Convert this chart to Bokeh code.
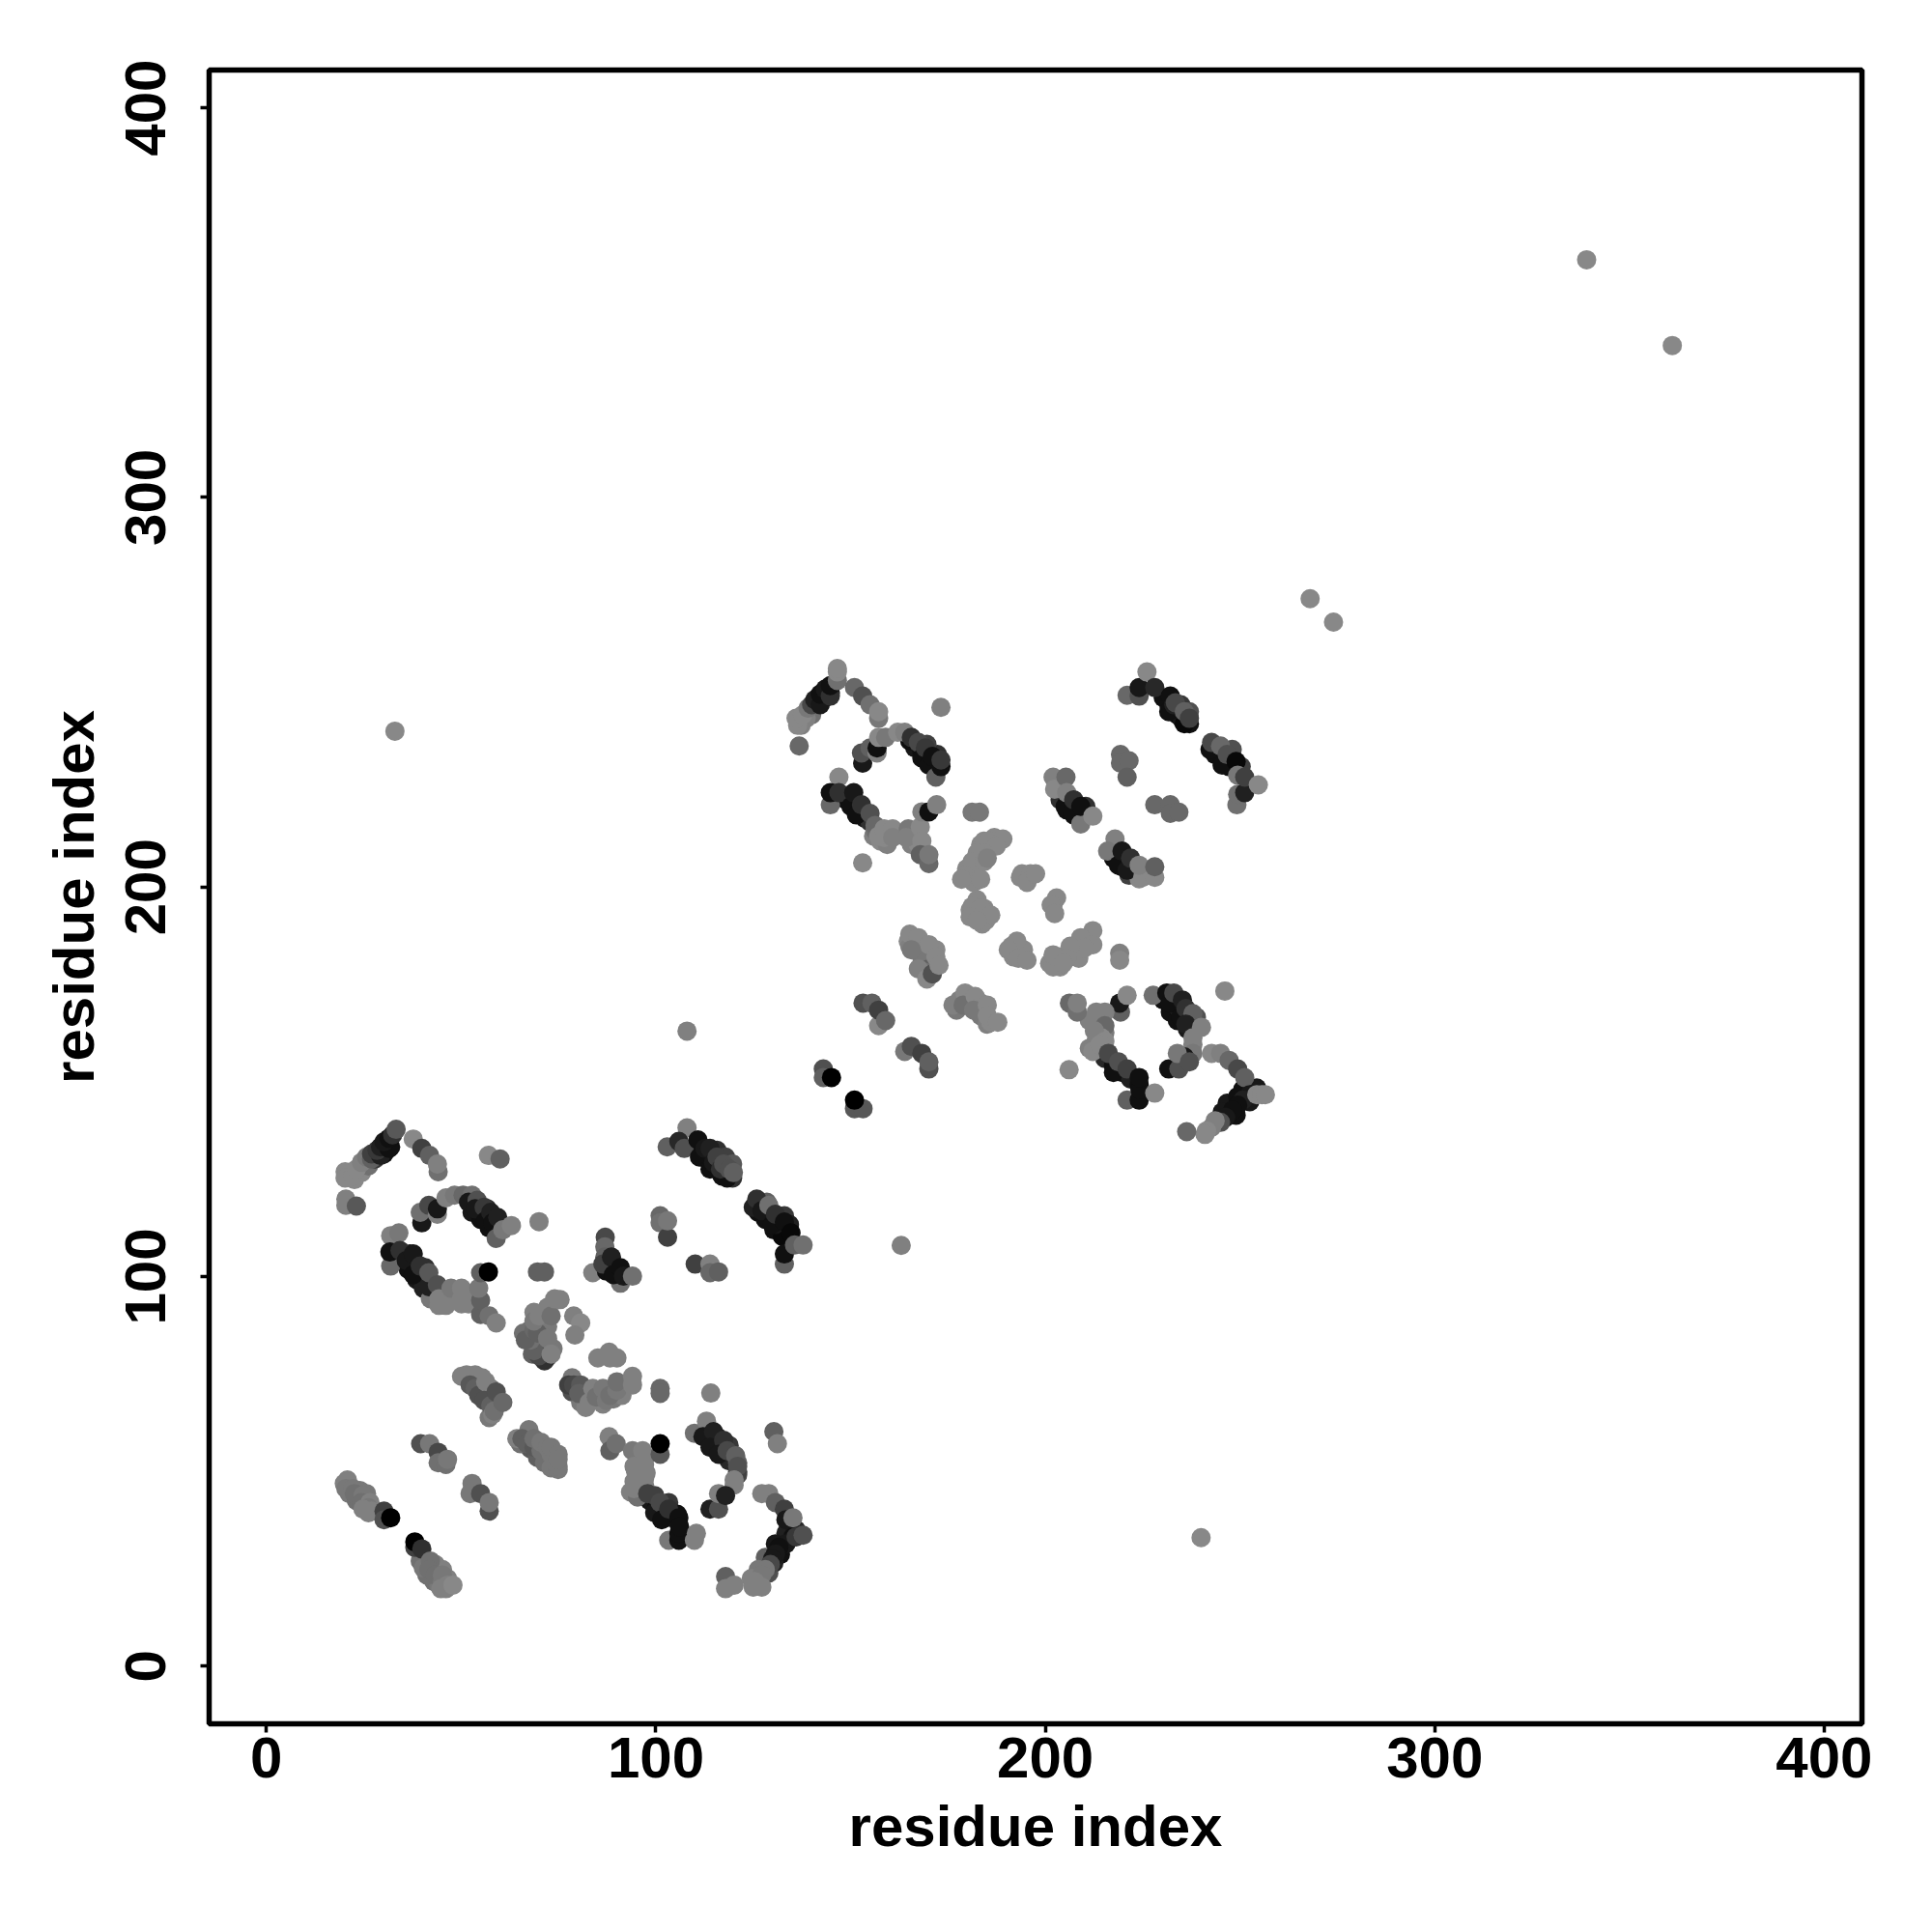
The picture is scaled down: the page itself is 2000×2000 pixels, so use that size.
from bokeh.plotting import figure
from bokeh.embed import file_html
from bokeh.resources import INLINE
from bokeh.models import ColumnDataSource, FixedTicker

# contacts: (residue i, residue j, grey level)
under_c = [(22.6,124.9,0x88),(24.4,126.7,0x88),(26.2,128.4,0x70),(27.9,130.2,0x38),(30.2,131.5,0x10),(31.9,133.3,0x10),
(111.2,133.3,0x10),(113,130.2,0x10),(115.2,127.6,0x18),(117,125.8,0x10),(119.7,125.3,0x30),(115.7,132.4,0x30),(117.9,130.7,0x40),(119.7,128.9,0x58),
(126.3,116.5,0x10),(128.1,114.7,0x10),(130.3,112,0x10),(132.5,110.3,0x08),(128.5,119.1,0x60),(133,115.6,0x38),(134.3,113.4,0x20),(130.7,113.4,0x18),
(52.8,116.5,0x18),(55,114.7,0x10),(57.2,112.5,0x10),(54.1,118.3,0x30),(56.7,117.4,0x28),(59.4,113.4,0x18),
(36.4,101.9,0x10),(38.6,99.2,0x18),(40.3,97,0x20),(42.6,95.2,0x40),(36.8,105.8,0x20),(40.8,102.3,0x30),(43.4,96.1,0x50),(42.1,94.3,0x78),(44.3,92.6,0x80),(46.1,92.6,0x80),(50.1,93,0x80),(51.9,93,0x80),
(88.2,101.9,0x10),(89.5,101,0x10),
(113,59.8,0x10),(115.2,56.2,0x10),(117.4,54.4,0x18),(118.8,52.7,0x28),(121,52.2,0x60),(115.7,58.9,0x18),(118.8,56.7,0x38),(121,49.1,0x48),
(98.4,42.5,0x18),(100.2,40.7,0x10),(101.9,39.8,0x20),(104.1,38.1,0x18),(99.7,43.8,0x40),(103.3,42,0x38),(105.5,39,0x10),(95.3,54.4,0x80),(94.8,50,0x80),(97.1,53.6,0x80),(97.5,49.6,0x80),(93.5,44.7,0x80),(96.2,45.6,0x80),(95.3,43.4,0x70),
(20,46.9,0x80),(21.3,44.3,0x78),(23.1,42.5,0x70),(24.8,41.6,0x78),(26.2,39.4,0x80),(24,45.1,0x78),(25.7,44.3,0x78),
(39.5,27,0x70),(43,21.7,0x70),(44.3,20.8,0x78),(41.2,23.4,0x70),(43.4,26.1,0x80),(45.2,24.8,0x80),(46.5,22.5,0x80),
(67.8,55.8,0x58),(69.6,53.6,0x60),(71.4,52.2,0x70),(73.1,50.9,0x78),(74.9,50.5,0x78),(65.2,57.1,0x70),(71.4,55.3,0x78),
(55.4,74,0x80),(57.6,71.3,0x78),(56.3,69.5,0x60),(59.4,67.3,0x50),(57.2,63.8,0x78),(52.8,73.5,0x60),(54.5,71.3,0x50),
(66,85.5,0x70),(67.8,86.4,0x70),(68.3,80.1,0x60),(72.2,79.3,0x50),(72.2,87.2,0x78),(68.7,90.8,0x80),(72.2,92.1,0x80),(73.6,81.5,0x78),(69.6,80.1,0x50),
(78.5,70.4,0x50),(80.7,67.7,0x78),(82,66.4,0x80),(86.4,67.3,0x80),(89.1,68.6,0x78),(91.3,69.5,0x80),(83.3,69.5,0x78),(78.5,74,0x78),
(133.4,34.1,0x20),(130.7,31.4,0x18),(132,28.7,0x10),(130.3,26.5,0x20),(128.1,27.9,0x60),(126.3,24.8,0x78),(124.5,22.5,0x80),(129,23.9,0x50),(136,35,0x28)]
under_d = [(140,244.2,0x70),(143.5,248.6,0x18),(144.8,249.9,0x10),(138.6,243.3,0x80),(137.3,241.5,0x80),
(166.5,235.7,0x18),(168.3,234.8,0x10),(170.1,233.1,0x10),(165.2,237.5,0x10),(171,231.3,0x10),(172.3,234,0x30),(169.6,236.6,0x40),
(148.8,222.4,0x10),(151.5,220.7,0x18),(153.7,217.6,0x18),(155,216.7,0x30),(155.9,213.1,0x80),(157.7,211.8,0x88),(159.4,210.9,0x80),(163,213.6,0x80),(165.6,210.9,0x80),(167.4,210.9,0x88),(158.6,212.7,0x88),(156.3,214.5,0x70),
(230.3,248.6,0x10),(231.7,246.8,0x10),(233.9,244.2,0x10),(235.2,242.8,0x18),(237,241.9,0x10),(234.8,246.8,0x38),(237,245,0x50),
(243.6,234,0x10),(245.4,232.6,0x10),(247.2,230.9,0x10),(248.5,230.9,0x10),(248,235.3,0x50),(250.3,230.9,0x40),
(203.8,222.4,0x30),(205.5,219.8,0x10),(207.3,218.5,0x10),(210.4,220.7,0x30),(208.2,218.9,0x18),
(217.5,207.4,0x10),(219.7,205.2,0x18),(221.5,203,0x40),(223.3,203.8,0x78),(220.6,206.9,0x20),(224.1,202.1,0x88),
(179.8,204.7,0x88),(183.4,207.4,0x88),(183.4,210.9,0x88),(180.7,202,0x88),(186.9,212.7,0x88),(181.6,204.3,0x88),(184.3,211.8,0x88),
(182.5,196.7,0x88),(184.7,191.4,0x88),(180.7,194.1,0x88),(184.3,194.5,0x88),(182.5,193.2,0x88),
(191.3,184.8,0x88),(192.7,183.9,0x88),(194.4,183.9,0x88),(191.8,182.1,0x88),
(210.4,187,0x88),(208.2,184.3,0x88),(206.4,182.1,0x88),(203.8,182.1,0x88),(208.6,181.7,0x88),(201.1,180.4,0x88),(203.8,179.5,0x88),(194,203.4,0x88),(202,195.4,0x88),
(164.8,186.1,0x88),(167.4,184.8,0x78),(169.2,182.1,0x80),(168.3,181.7,0x78),(170.1,179,0x60),(169.2,178.1,0x70),(171.9,183.9,0x88),(165.2,184.8,0x80),
(178,171,0x80),(180.7,170.2,0x78),(183.4,170.2,0x80),(183.4,167,0x78),(185.1,164.8,0x80),(181.2,171.9,0x80),(177.2,168.4,0x78),
(214,166.6,0x80),(211.3,165.7,0x80),(214,164,0x68),(213.1,160.8,0x80),(211.3,158.6,0x80),(215.3,162.6,0x78),
(215.3,156,0x28),(217.5,154.2,0x10),(219.7,152.4,0x10),(221.9,150.7,0x20),(224.1,149.3,0x10),
(230.3,171,0x10),(232.1,167.9,0x10),(233.9,165.7,0x10),(233.9,169.3,0x20),(236.5,166.6,0x30),(236.5,163.5,0x18),(238.8,166.6,0x50),(237.9,159.6,0x80),
(249,141.4,0x10),(246.7,144.5,0x18),(250.7,148,0x10),(252.5,144.9,0x18),(249.4,146.2,0x10),(245.4,142.2,0x18),(254.3,148.4,0x18)]
c_a = [(20.2,126.9,0x88),(20.2,125.3,0x88),(22.2,125.8,0x88),(23.1,127.6,0x88),(24.4,129.3,0x80),(25.7,130.7,0x78),(27,130.2,0x60),(27,131.5,0x40),(29.3,131.1,0x20),(28.4,132.4,0x38),(29.3,133.3,0x20),(31.5,132.9,0x10),(30.2,134.6,0x18),(31.5,135.5,0x10),(32.4,136.4,0x30),(33.3,137.8,0x58),
(37.7,135.3,0x88),(39.9,132.9,0x40),(41.9,131.1,0x60),(44.1,126.9,0x70),(43.9,128.9,0x80)]
c_b = [(20.4,119.9,0x80),(20.4,118.3,0x80),(23.1,118.1,0x58),(57,131.1,0x88),(60,130.2,0x60)]
c_d = [(39.9,113.8,0x18),(39.5,116.5,0x70),(41.7,118.3,0x48),(43.9,116,0x80),(43.9,117.4,0x18),(46.1,120.2,0x80),(48.3,120.9,0x78),(50.5,120.9,0x68),(52.8,120.9,0x70),(51.9,119.1,0x18),(54.1,119.6,0x50),(53.6,117.4,0x18),(55.9,117.8,0x38),(56.3,114.3,0x10),(57.6,116.5,0x20),(58.1,113.8,0x10),(59.4,115.2,0x20),(59,109.8,0x60),(60.7,112,0x78),(62.9,113.1,0x80),(70,114.1,0x80)]
c_f = [(102.9,133.3,0x60),(108,138.2,0x80),(105.9,134.7,0x28),(107.3,132.9,0x50),(110.8,135.1,0x10),(111.2,130.7,0x10),(112.6,132.9,0x18),(113.9,132.9,0x20),(113.9,127.6,0x10),(114.8,129.3,0x18),(115.7,130.7,0x40),(118.3,125.3,0x10),(116.6,127.6,0x30),(117.4,128.9,0x50),(118.8,127.6,0x50),(119.9,126.7,0x60)]
c_g = [(125,117.8,0x20),(125.9,119.9,0x30),(127.2,116.9,0x18),(129,118.3,0x70),(129.9,113.4,0x10),(130.7,116,0x30),(133,114,0x10),(134.7,111.2,0x08),(133,103.2,0x60),(133,105.8,0x10),(135.6,108.1,0x60),(137.8,108.1,0x70)]
c_h = [(101.1,115.6,0x68),(101.1,113.8,0x70),(103,110.1,0x40),(103,114.3,0x78),(110.1,103.2,0x40),(113.9,103.2,0x80),(113.9,101,0x68),(116.1,101.2,0x60)]
c_j = [(87,110.1,0x48),(86.9,107.6,0x68),(86.9,105,0x60),(83.8,101,0x80),(90.9,98.3,0x70),(87.3,101.4,0x10),(86.4,103.2,0x40),(88.6,105,0x20),(89.1,100.5,0x10),(90.9,102.3,0x10),(91.7,100.1,0x18),(94,100.1,0x70)]
c_k = [(31.9,110.5,0x80),(34,111.2,0x78),(31.9,102.7,0x68),(31.7,106.3,0x10),(34.3,106.7,0x30),(35.9,104.1,0x18),(37.7,100.5,0x10),(37.7,105.8,0x18),(39.5,102.7,0x30),(41.7,97.4,0x20),(41.7,101,0x58),(43.9,97.9,0x50),(44.3,94.3,0x80),(46.1,94.3,0x80),(47.4,97,0x78),(50.1,97,0x80),(50.1,94.3,0x80),(52.3,94.3,0x80),(55,90.3,0x60),(55,93.9,0x60),(54.5,97,0x78),(55,101,0x60),(57,101.2,0x00),(57.2,89.9,0x70),(59,88.1,0x80)]
c_l = [(69.6,101.2,0x60),(71.4,101.2,0x60)]
c_m = [(71.4,78.4,0x30),(70,79.7,0x48),(68.7,81,0x60),(67.8,83.7,0x70),(66.5,83.7,0x60),(68.7,86.4,0x68),(69.6,85.5,0x60),(68.7,88.6,0x78),(70,89.9,0x80),(72.2,84.1,0x78),(73.1,89.9,0x70),(73.1,80.1,0x80),(74,94.3,0x80),(75.4,94.1,0x80),
(78.9,89.9,0x80),(80.7,88.1,0x88),(79.2,85,0x80),(88,80.6,0x80),(85.1,79.1,0x80),(90,79.1,0x80),(88.2,79.1,0x80)]
c_p = [(77.6,72.2,0x40),(78.9,72.2,0x48),(80.7,72.2,0x58),(80.2,70,0x60),(82.9,67.7,0x80),(83.8,71.3,0x80),(84.7,69.1,0x70),(87.3,68.2,0x78),(86.4,71.3,0x78),(88.2,69.5,0x70),(90,70.8,0x78),(90,73,0x70),(94,74.4,0x80),(94,72.2,0x80),(101.1,71.3,0x68),(101.1,70,0x68),(114.1,70.1,0x80)]
c_r = [(50.1,74.4,0x80),(51.4,74.8,0x80),(53.6,74.8,0x80),(52.3,72.2,0x58),(53.6,71.3,0x60),(54.5,69.5,0x50),(56.3,73,0x80),(55.9,68.2,0x50),(57.6,66.9,0x60),(58.1,64.6,0x80),(59,70.4,0x50),(58.5,65.5,0x70),(60.7,67.7,0x68)]
c_s = [(64.3,58.4,0x80),(67.4,60.7,0x78),(65.6,58.4,0x60),(66.9,57.1,0x60),(68.7,56.2,0x58),(68.7,58.4,0x70),(70.5,55.3,0x70),(70.5,57.5,0x78),(72.2,56.2,0x78),(73.1,54.4,0x78),(73.1,56.2,0x78),(74.9,51.3,0x78),(74.9,54.4,0x78),(74.9,53.1,0x78)]
c_t = [(39.6,57.1,0x50),(41.9,57.1,0x78),(44.1,54.9,0x48),(44.1,52.2,0x70),(46.1,51.8,0x70),(46.5,53.1,0x78),(52.8,46.9,0x78),(52.3,44.3,0x78),(55,44.3,0x50),(57.2,39.8,0x50),(57.2,42,0x78)]
c_u = [(20.8,47.8,0x80),(20.4,45.6,0x78),(22.2,45.6,0x78),(22.6,44.3,0x70),(24.8,43.8,0x78),(24.4,42,0x70),(26.6,42,0x80),(26.2,40.7,0x78),(24.8,40.3,0x80),(27,39.8,0x80),(30.2,39.8,0x40),(30.2,37.6,0x50),(31.9,38.1,0x00),
(38.1,30.5,0x40),(38.1,31.9,0x00),(39.9,30.1,0x30),(40.3,25.2,0x78),(42.1,27,0x70),(41.7,24.8,0x70),(43.4,23.4,0x70),(45.2,21.7,0x78),(45.2,23.4,0x78),(46.1,19.9,0x80),(46.5,20.8,0x80),(44.8,19.9,0x80),(47.9,20.8,0x88)]
c_w = [(88,58.9,0x80),(88.2,55.3,0x60),(89.8,57.1,0x70),(94,55.3,0x78),(96.6,55.3,0x80),(94.4,51.3,0x80),(97.1,51.8,0x80),(97.1,48.2,0x80),(97.1,46.5,0x80),(94.4,45.6,0x80),(94.4,47.4,0x80),(101.1,54.4,0x58),(101.1,57.1,0x00),(97.9,44.3,0x40),(99.7,39.4,0x18),(101.1,42,0x48),(101.5,37.6,0x10),(103.3,40.3,0x30),(105.9,38.1,0x10),(103.3,32.3,0x78),(105.9,32.3,0x10),(105.9,34.1,0x10),(106.1,35.8,0x10),(110.4,34.1,0x80),(109.9,32.3,0x80)]
c_x = [(109.9,59.8,0x70),(113,62.9,0x80),(112.1,58.9,0x18),(114.8,60.2,0x20),(113.9,56.2,0x18),(117.4,58,0x30),(116.1,54.4,0x18),(118.3,55.3,0x48),(120.5,54,0x60),(121,50,0x40),(121,51.3,0x50),(120.1,46.5,0x80),(120.1,47.8,0x80),(113.9,40.3,0x20),(116.1,40.3,0x50),(116.1,44.3,0x80),(117.9,43.8,0x20),(130.3,60.2,0x60),(131.2,57.1,0x80)]
c_z = [(127.2,44.3,0x80),(129,44.3,0x80),(130.7,42,0x60),(133,40.3,0x40),(133.4,37.6,0x18),(135.2,38.1,0x78),(135.2,33.2,0x10),(133.4,31.4,0x18),(131.6,30.5,0x10),(130.7,28.8,0x18),(129.9,27.4,0x18),(129.4,26.1,0x48),(128.1,24.8,0x78),(127.2,23.4,0x78),(125.4,21.7,0x80),(125,20.3,0x80),(127.2,20.3,0x80),(136,33.2,0x38),(137.8,33.6,0x50),
(117.9,23,0x60),(117.9,19.9,0x80),(120.1,20.8,0x80)]

d_a = [(136.4,241.5,0x88),(136,243.3,0x88),(137.7,244.2,0x88),(139.1,245.9,0x78),(140,246.8,0x48),(140.8,248.1,0x20),(142.2,246.8,0x18),(142.2,249.5,0x10),(143.5,250.8,0x18),(144.8,249,0x30),(144.8,251.7,0x10),(146.6,253,0x70),(146.6,255.2,0x88),(146.6,256.1,0x88),(136.8,236.2,0x68),
(151,251.2,0x68),(153.1,249,0x50),(157.2,243.3,0x78),(155,246.8,0x70),(157.2,245,0x88),(173.2,246.1,0x80)]
d_b = [(153.1,231.8,0x18),(152.8,234.4,0x50),(155,235.7,0x60),(156.8,234.4,0x80),(156.8,235.7,0x10),(157.2,238.4,0x88),(159,238.4,0x78),(162.1,239.7,0x88),(163.9,239.7,0x80),(165.6,238.4,0x30),(167.4,237.1,0x48),(168.3,233.1,0x10),(169.2,235.7,0x38),(170.1,231.3,0x10),(171,233.5,0x10),(171.9,228.2,0x60),(173.2,230.9,0x10),(173.2,232.6,0x38)]
d_c = [(147,228.2,0x88),(144.8,221.1,0x68),(144.8,224.2,0x10),(147,224.2,0x30),(150.1,220.7,0x10),(150.8,224.2,0x18),(151.5,218.5,0x10),(152.8,221.1,0x30),(155,218.9,0x50),(156.3,215.8,0x68),(157.2,213.1,0x88),(158.6,214.9,0x88),(160.8,214.9,0x88),(160.8,212.7,0x80),(164.8,214.9,0x78),(164.3,212.7,0x80),(167.9,215.4,0x88),(168.3,211.8,0x88),(167.9,208.3,0x60),(170.1,206,0x68),(170.1,208.3,0x78),(168.3,219.3,0x80),(170.1,219.3,0x10),(172.1,221.1,0x80),(153.1,206.2,0x88)]
d_m = [(181.2,219.2,0x78),(183.1,219.2,0x78),(185.6,211.8,0x88),(189.1,212.3,0x88),(187.4,210.5,0x88),(184.3,208.7,0x88),(182.5,208.7,0x88),(181.2,206.5,0x88),(179.4,203,0x88),(181.6,201.2,0x88),(183.4,202,0x88),(184.3,206.5,0x88),(178.5,202,0x88),(185.1,207.4,0x80),
(193.6,202.5,0x88),(196.2,203.4,0x88),(195.3,201.2,0x88),(197.5,203.4,0x88),(202.9,197.2,0x88),(201.5,195.4,0x88),(202.4,193.2,0x88),
(181.2,195,0x88),(183.4,194.5,0x88),(183.8,190.5,0x88),(186,192.8,0x88),(180.7,192.3,0x88),(182.5,191.4,0x88),
(192.7,186.1,0x88),(190.5,183.9,0x88),(193.1,181.7,0x88),(195.3,181.2,0x88),
(212.2,188.8,0x88),(209.1,187,0x88),(212.2,185.2,0x88),(210,184.3,0x88),(206.4,184.8,0x88),(205.5,181.7,0x88),(202,179.5,0x88),(202,182.6,0x88),(204.6,180.4,0x88),(219.1,183,0x80),(219.1,181.2,0x88)]
d_r = [(165.2,187.9,0x88),(167.4,187,0x88),(170.1,185.2,0x88),(165.6,183.9,0x78),(167.4,179,0x80),(169.6,176.4,0x88),(171,177.7,0x50),(171.9,182.1,0x88),(172.7,179.9,0x88),
(176.3,169.7,0x80),(179.4,172.8,0x88),(178.9,169.7,0x70),(182,171.9,0x88),(181.6,168.4,0x78),(185.1,169.7,0x88),(186,165.3,0x88),(185.1,167,0x88),(187.8,165.3,0x88),
(153.2,170.2,0x50),(155.5,170.2,0x60),(157.2,164.4,0x88),(157.2,168.4,0x40),(159,165.7,0x68),
(163.9,157.8,0x78),(165.6,159.1,0x50),(168.3,157.3,0x40),(170.1,153.3,0x50),(170.1,155.1,0x60),
(143,153.3,0x50),(143,151.1,0x60),(145.1,151.1,0x00),(151,143.1,0x58),(153.2,143.1,0x58),(151,145.3,0x00)]
d_f = [(221,249.2,0x68),(224.1,249,0x50),(224.1,251.2,0x18),(226.1,255.2,0x88),(228.1,251.2,0x28),(231.7,245,0x10),(232.1,249,0x10),(233,246.8,0x20),(233.4,247.3,0x48),(235.7,241.9,0x08),(235.7,245,0x60),(237,243.3,0x40),
(242.3,235.3,0x10),(242.7,237.1,0x48),(245.4,231.3,0x10),(245,236.2,0x68),(246.7,234,0x50),(249,232.2,0x08),(249.2,221.1,0x70),(249.4,228.7,0x78),(249.4,223.8,0x70),(251.2,224.2,0x20),(251.2,228.2,0x40),(254.7,226.2,0x88),
(219.3,234,0x68),(219.3,231.8,0x68),(221.5,232.4,0x68),(221,228.2,0x60),(228.1,221.1,0x68),(232.1,221.1,0x68),(232.1,218.9,0x68),(234.3,219.2,0x68)]
d_j = [(202,228.2,0x80),(202.4,225.1,0x88),(205.3,228.2,0x68),(205.1,220.7,0x10),(205.5,224.2,0x80),(206.9,219.3,0x10),(207.3,222.4,0x30),(209.1,216.2,0x78),(209.1,220.7,0x10),(212.2,218.2,0x88),
(217.9,212.3,0x80),(216,209.2,0x78),(218.8,205.6,0x10),(219.7,209.2,0x18),(221,204.3,0x18),(221.9,207.4,0x30),(225,202.5,0x88),(224.1,205.6,0x80),(228.1,202.5,0x88),(228.1,205.2,0x60)]
d_w = [(219.3,167.9,0x60),(219.1,170.2,0x18),(221,172.2,0x88),(206.2,170.2,0x68),(208.2,167.9,0x70),(208.2,170.2,0x80),(213.1,167.9,0x80),(215.3,167.9,0x80),(212.6,165.3,0x80),(215.3,164.4,0x68),(214.4,161.3,0x88),(212.6,163.1,0x80),(215.3,160.4,0x88),(212.2,157.8,0x88),(214,159.5,0x88),(216.2,157.3,0x48),(217.5,152.4,0x10),(218.8,155.1,0x50),(221,153.3,0x40),(221,145.3,0x60),(224.1,145.3,0x10),(224.3,148,0x10),(224.1,151.1,0x10),(228.1,147.1,0x88),(206.1,153.1,0x88)]
d_x = [(227.7,172.2,0x70),(231.2,172.8,0x10),(232.1,170.2,0x10),(233,172.8,0x48),(235.2,171,0x20),(234.8,166.6,0x10),(236.1,168.8,0x30),(237.9,167.5,0x60),(236.1,164.8,0x20),(240.1,164,0x80),(237.9,161.3,0x80),(237.9,157.3,0x78),(235.7,156.4,0x18),(231.7,153.3,0x10),(234.3,153.3,0x50),(233.9,157.3,0x78),(237,155.1,0x50),(246.1,173.3,0x88)]
d_z = [(242.7,157.3,0x88),(245,157.3,0x80),(247.2,155.5,0x68),(249.4,153.3,0x48),(251.2,151.1,0x60),(252.5,146.7,0x18),(250.7,145.3,0x20),(249.4,144,0x10),(248.1,142.7,0x10),(246.3,140.9,0x18),(245,139.6,0x50),(243.6,140,0x80),(242.7,138.3,0x80),(241.4,137.4,0x88),(241,136.5,0x88),(236.3,137.2,0x68),(254.3,146.7,0x88),(255.6,146.7,0x88),(256.5,146.7,0x88)]
outliers = [(33,240,0x88),(240,33,0x88),(163,108,0x80),(108,163,0x80),(268,274,0x88),(274,268,0x88),(339,361,0x88),(361,339,0x88)]

tick_values = [0, 100, 200, 300, 400]
axis_title = "residue index"

groups = [under_c,under_d,c_a,c_b,c_d,c_f,c_g,c_h,c_j,c_k,c_l,c_m,c_p,c_r,c_s,c_t,c_u,c_w,c_x,c_z,
          d_a,d_b,d_c,d_m,d_r,d_f,d_j,d_w,d_x,d_z,outliers]
pts = [q for g in groups for q in g]
src = ColumnDataSource(dict(x=[q[0] for q in pts], y=[q[1] for q in pts],
                            c=["#%02x%02x%02x" % (q[2],q[2],q[2]) for q in pts]))

p = figure(width=1990, height=1990, output_backend="svg", toolbar_location=None,
           x_range=(-14.71,409.7), y_range=(-14.8,409.7),
           min_border_left=216, min_border_right=63, min_border_top=72, min_border_bottom=206)
p.grid.visible = False
p.background_fill_color = "white"
p.outline_line_color = "black"
p.outline_line_width = 5.5
p.scatter("x","y",source=src,size=20,fill_color="c",line_color=None)

for ax in (p.xaxis[0], p.yaxis[0]):
    ax.ticker = FixedTicker(ticks=tick_values)
    ax.axis_line_color = None
    ax.major_tick_in = 0
    ax.major_tick_out = 9
    ax.major_tick_line_width = 3.5
    ax.major_tick_line_color = "black"
    ax.minor_tick_line_color = None
    ax.major_label_text_font = "Liberation Sans"
    ax.major_label_text_font_style = "bold"
    ax.major_label_text_font_size = "60px"
    ax.major_label_text_color = "black"
    ax.axis_label = axis_title
    ax.axis_label_text_font = "Liberation Sans"
    ax.axis_label_text_font_style = "bold"
    ax.axis_label_text_font_size = "60px"
    ax.axis_label_text_color = "black"
p.xaxis[0].major_label_standoff = 5
p.xaxis[0].axis_label_standoff = 14
p.yaxis[0].major_label_orientation = "parallel"
p.yaxis[0].major_label_standoff = 36
p.yaxis[0].axis_label_standoff = 18

open("out.html","w").write(file_html(p, INLINE))
